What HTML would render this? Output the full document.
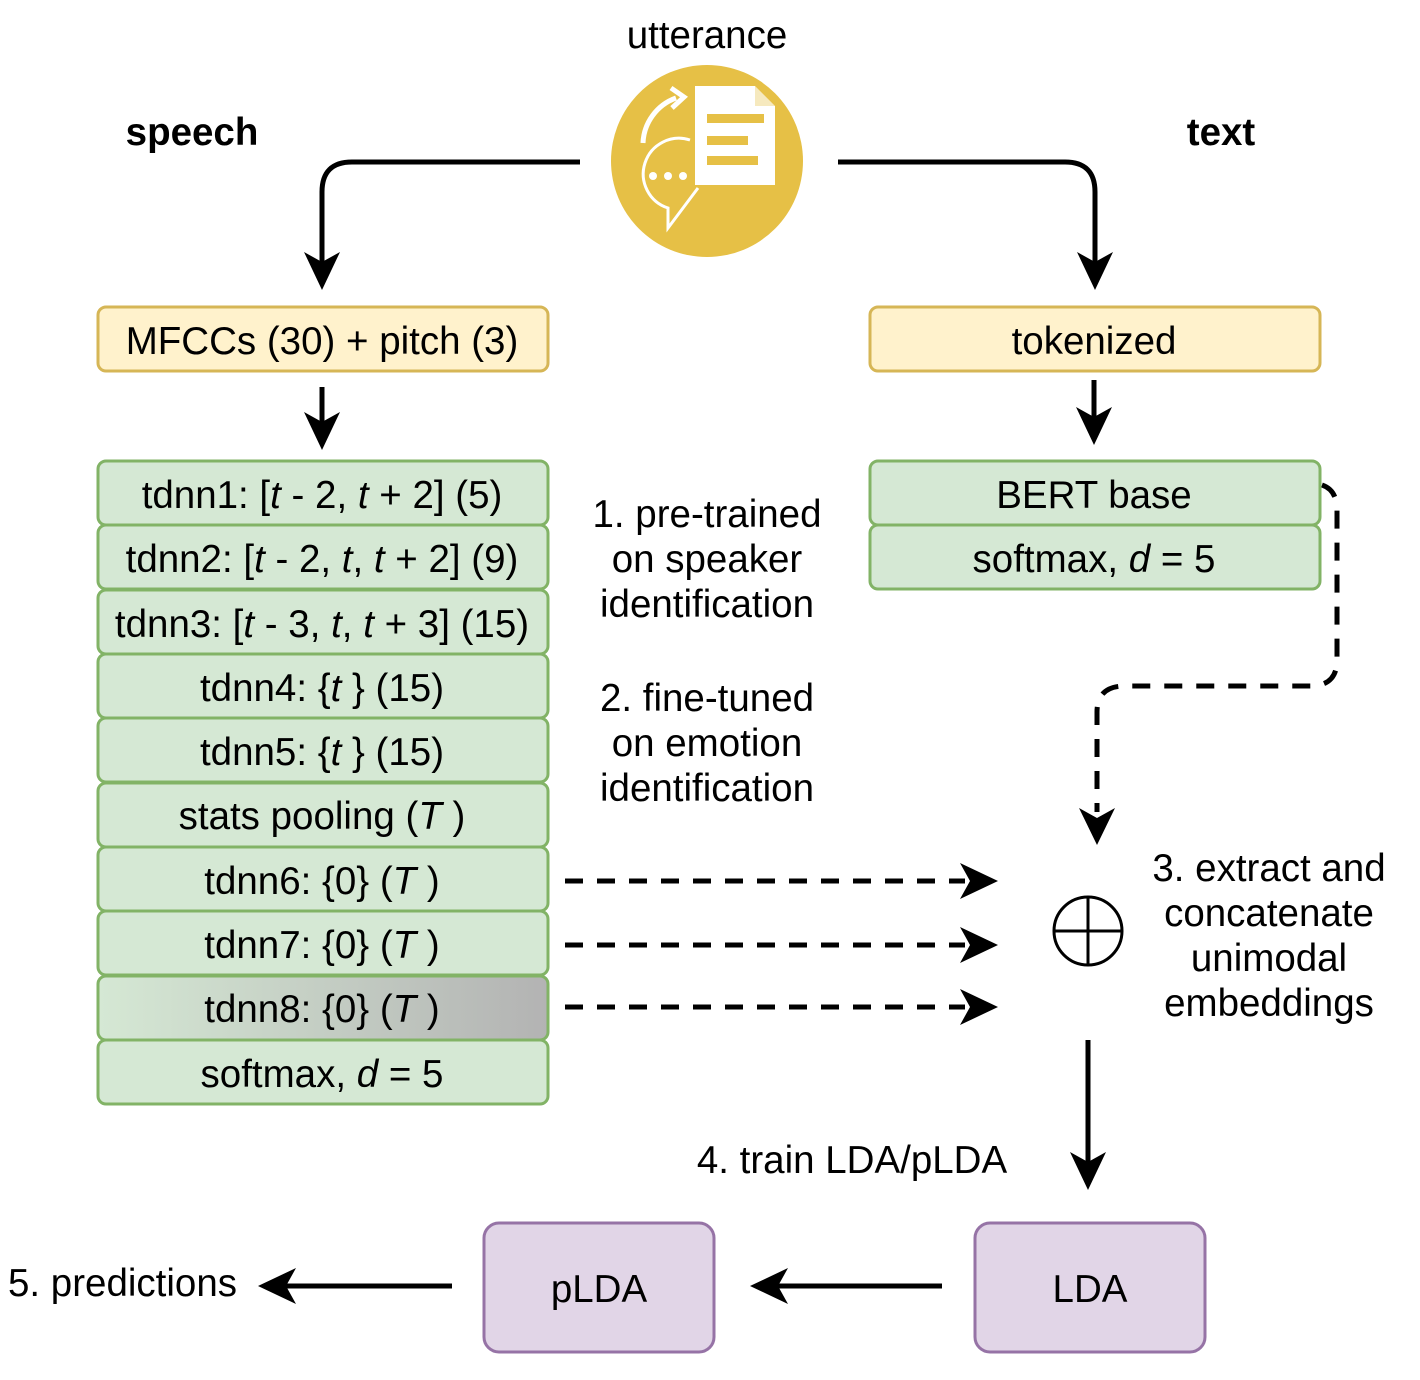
<!DOCTYPE html>
<html><head><meta charset="utf-8"><style>
html,body{margin:0;padding:0;background:#fff}
svg{display:block}
text{font-family:"Liberation Sans",Arial,sans-serif;font-size:38.5px;fill:#000}
</style></head><body>
<svg width="1420" height="1380" viewBox="0 0 1420 1380" xmlns="http://www.w3.org/2000/svg">
<defs>
<linearGradient id="g8" x1="0" x2="1" y1="0" y2="0">
<stop offset="0" stop-color="#d5e8d4"/><stop offset="1" stop-color="#b3b3b3"/>
</linearGradient>
</defs>

<!-- icon -->
<circle cx="707" cy="161" r="96" fill="#e6c046"/>
<path d="M643 143 A50 50 0 0 1 676 98" fill="none" stroke="#fff" stroke-width="5"/>
<path d="M671 88 L684 97 L672 108" fill="none" stroke="#fff" stroke-width="5"/>
<path d="M695 86 L755 86 L775 106 L775 185 L695 185 Z" fill="#fff"/>
<path d="M755 86 L755 106 L775 106" fill="#e6c046" opacity="0.35"/>
<rect x="707" y="114" width="57" height="9" fill="#e6c046"/>
<rect x="707" y="136" width="41" height="9" fill="#e6c046"/>
<rect x="707" y="156" width="51" height="9" fill="#e6c046"/>
<path d="M690 140 A35 35 0 1 0 668 208 L668 228 L698 188" fill="none" stroke="#fff" stroke-width="3"/>
<circle cx="653" cy="176" r="4" fill="#fff"/><circle cx="668" cy="176" r="4" fill="#fff"/><circle cx="683" cy="176" r="4" fill="#fff"/>

<text x="707" y="48" text-anchor="middle">utterance</text>
<text x="192" y="145" text-anchor="middle" font-weight="bold">speech</text>
<text x="1221" y="145" text-anchor="middle" font-weight="bold">text</text>

<g fill="none" stroke="#000" stroke-width="5">
<path d="M580 162 L352 162 Q322 162 322 192 L322 270"/>
<path d="M838 162 L1065 162 Q1095 162 1095 192 L1095 270"/>
<path d="M322 387 L322 430"/>
<path d="M1094 380 L1094 425"/>
<path d="M1088 1040 L1088 1170"/>
<path d="M942 1286 L775 1286"/>
<path d="M452 1286 L283 1286"/>
</g>
<g fill="#000">
<path d="M304 252 L322 290 L340 252 L322 262 Z"/>
<path d="M1077 252 L1095 290 L1113 252 L1095 262 Z"/>
<path d="M304 412 L322 450 L340 412 L322 422 Z"/>
<path d="M1076 407 L1094 445 L1112 407 L1094 417 Z"/>
<path d="M1070 1152 L1088 1190 L1106 1152 L1088 1162 Z"/>
<path d="M788 1268 L750 1286 L788 1304 L778 1286 Z"/>
<path d="M296 1268 L258 1286 L296 1304 L286 1286 Z"/>
<path d="M1079 808 L1097 845 L1115 808 L1097 818 Z"/>
<path d="M960 863 L998 881 L960 899 L970 881 Z"/>
<path d="M960 927 L998 945 L960 963 L970 945 Z"/>
<path d="M960 989 L998 1007 L960 1025 L970 1007 Z"/>
</g>
<g fill="none" stroke="#000" stroke-width="5" stroke-dasharray="18 14">
<path d="M1322 485 Q1337 490 1337 510 L1337 660 Q1337 686 1310 686 L1125 686 Q1097 686 1097 712 L1097 812"/>
<path d="M565 881 L965 881"/>
<path d="M565 945 L965 945"/>
<path d="M565 1007 L965 1007"/>
</g>

<g stroke-width="3">
<rect x="98" y="307" width="450" height="64" rx="8" fill="#fff2cc" stroke="#d6b656"/>
<rect x="870" y="307" width="450" height="64" rx="8" fill="#fff2cc" stroke="#d6b656"/>
<g fill="#d5e8d4" stroke="#82b366">
<rect x="98" y="461" width="450" height="64" rx="8"/>
<rect x="98" y="525" width="450" height="64" rx="8"/>
<rect x="98" y="590" width="450" height="64" rx="8"/>
<rect x="98" y="654" width="450" height="64" rx="8"/>
<rect x="98" y="718" width="450" height="64" rx="8"/>
<rect x="98" y="783" width="450" height="64" rx="8"/>
<rect x="98" y="847" width="450" height="64" rx="8"/>
<rect x="98" y="911" width="450" height="64" rx="8"/>
<rect x="98" y="976" width="450" height="64" rx="8" fill="url(#g8)"/>
<rect x="98" y="1040" width="450" height="64" rx="8"/>
<rect x="870" y="461" width="450" height="64" rx="8"/>
<rect x="870" y="525" width="450" height="64" rx="8"/>
</g>
<rect x="975" y="1223" width="230" height="129" rx="15" fill="#e1d5e7" stroke="#9673a6"/>
<rect x="484" y="1223" width="230" height="129" rx="15" fill="#e1d5e7" stroke="#9673a6"/>
</g>

<circle cx="1088" cy="931" r="34" fill="none" stroke="#000" stroke-width="3"/>
<path d="M1054 931 H1122 M1088 897 V965" stroke="#000" stroke-width="3"/>

<g text-anchor="middle">
<text x="322" y="354">MFCCs (30) + pitch (3)</text>
<text x="1094" y="354">tokenized</text>
<text x="322" y="508">tdnn1: [<tspan font-style="italic">t</tspan> - 2, <tspan font-style="italic">t</tspan> + 2] (5)</text>
<text x="322" y="572">tdnn2: [<tspan font-style="italic">t</tspan> - 2, <tspan font-style="italic">t</tspan>, <tspan font-style="italic">t</tspan> + 2] (9)</text>
<text x="322" y="637">tdnn3: [<tspan font-style="italic">t</tspan> - 3, <tspan font-style="italic">t</tspan>, <tspan font-style="italic">t</tspan> + 3] (15)</text>
<text x="322" y="701">tdnn4: {<tspan font-style="italic">t</tspan> } (15)</text>
<text x="322" y="765">tdnn5: {<tspan font-style="italic">t</tspan> } (15)</text>
<text x="322" y="829">stats pooling (<tspan font-style="italic">T</tspan> )</text>
<text x="322" y="894">tdnn6: {0} (<tspan font-style="italic">T</tspan> )</text>
<text x="322" y="958">tdnn7: {0} (<tspan font-style="italic">T</tspan> )</text>
<text x="322" y="1022">tdnn8: {0} (<tspan font-style="italic">T</tspan> )</text>
<text x="322" y="1087">softmax, <tspan font-style="italic">d</tspan> = 5</text>
<text x="1094" y="508">BERT base</text>
<text x="1094" y="572">softmax, <tspan font-style="italic">d</tspan> = 5</text>
<text x="707" y="527">1. pre-trained</text>
<text x="707" y="572">on speaker</text>
<text x="707" y="617">identification</text>
<text x="707" y="711">2. fine-tuned</text>
<text x="707" y="756">on emotion</text>
<text x="707" y="801">identification</text>
<text x="1269" y="881">3. extract and</text>
<text x="1269" y="926">concatenate</text>
<text x="1269" y="971">unimodal</text>
<text x="1269" y="1016">embeddings</text>
<text x="852" y="1173">4. train LDA/pLDA</text>
<text x="1090" y="1302">LDA</text>
<text x="599" y="1302">pLDA</text>
</g>
<text x="8" y="1296">5. predictions</text>
</svg>
</body></html>
